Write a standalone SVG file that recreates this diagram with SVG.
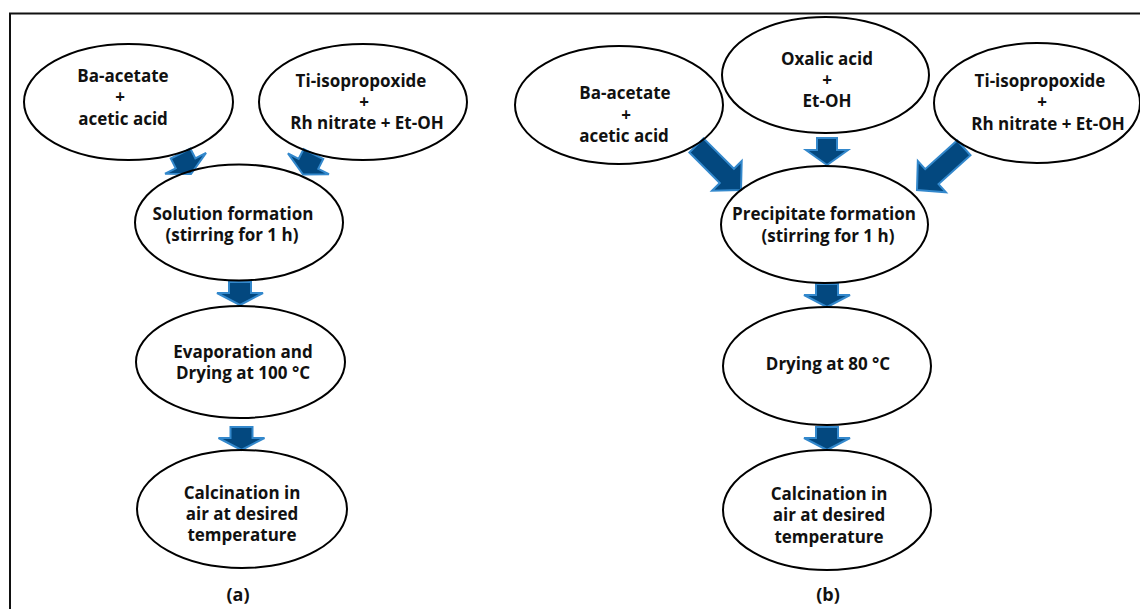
<svg xmlns="http://www.w3.org/2000/svg" xmlns:xlink="http://www.w3.org/1999/xlink" width="1140" height="609" viewBox="0 0 1140 609">
<style>
.node{fill:none;stroke:#000;stroke-width:2}
.t{font-family:"Open Sans","Noto Sans","Liberation Sans",sans-serif;font-weight:700;font-size:17px;fill:#111;text-anchor:middle}
.lbl{font-family:"Open Sans","Noto Sans","Liberation Sans",sans-serif;font-weight:700;font-size:18px;fill:#111;text-anchor:middle}
.arr{fill:#03487f;stroke:#3388cc;stroke-width:2;stroke-linejoin:miter}
</style>
<defs>
<path id="aS" d="M0,0 L-23,-12 L-11,-12 L-11,-23 L11,-23 L11,-12 L23,-12 Z"/>
<path id="aO" d="M0,0 L-21,-15 L-10,-15 L-10,-27 L10,-27 L10,-15 L21,-15 Z"/>
<path id="aB" d="M0,0 L-21,-20 L-10,-20 L-10,-63 L10,-63 L10,-20 L21,-20 Z"/>
</defs>
<rect x="10" y="13.5" width="1140" height="610" fill="#fff" stroke="#111" stroke-width="2"/>
<g id="connectors">
<use href="#aS" class="arr" transform="translate(191,174) rotate(-27)"/>
<use href="#aS" class="arr" transform="translate(303,174.5) rotate(27)"/>
<use href="#aS" class="arr" transform="translate(240,305)"/>
<use href="#aS" class="arr" transform="translate(241.5,450)"/>
<use href="#aB" class="arr" transform="translate(741,190) rotate(-45)"/>
<use href="#aO" class="arr" transform="translate(827,165)"/>
<use href="#aB" class="arr" transform="translate(917,190) rotate(48)"/>
<use href="#aS" class="arr" transform="translate(827,307)"/>
<use href="#aS" class="arr" transform="translate(827,450)"/>
</g>
<g id="a-ba">
<ellipse class="node" cx="128.5" cy="102" rx="104.5" ry="58"/>
<text class="t" x="123" y="82">Ba-acetate</text>
<text class="t" x="120" y="103">+</text>
<text class="t" x="123" y="125">acetic acid</text>
</g>
<g id="a-ti">
<ellipse class="node" cx="363" cy="102" rx="104" ry="58"/>
<text class="t" x="361" y="87">Ti-isopropoxide</text>
<text class="t" x="364" y="108">+</text>
<text class="t" x="367" y="129">Rh nitrate + Et-OH</text>
</g>
<g id="a-solution">
<ellipse class="node" cx="239" cy="222.5" rx="104" ry="58"/>
<text class="t" x="233" y="220">Solution formation</text>
<text class="t" x="232" y="241">(stirring for 1 h)</text>
</g>
<g id="a-evap">
<ellipse class="node" cx="240.5" cy="362" rx="104.5" ry="56"/>
<text class="t" x="243" y="358">Evaporation and</text>
<text class="t" x="243" y="379">Drying at 100 °C</text>
</g>
<g id="a-calc">
<ellipse class="node" cx="242" cy="509" rx="105" ry="59"/>
<text class="t" x="242" y="499">Calcination in</text>
<text class="t" x="242" y="520">air at desired</text>
<text class="t" x="242" y="541">temperature</text>
</g>
<text class="lbl" x="238" y="601">(a)</text>
<g id="b-ba">
<ellipse class="node" cx="619" cy="105" rx="104" ry="59"/>
<text class="t" x="625" y="99">Ba-acetate</text>
<text class="t" x="626" y="121">+</text>
<text class="t" x="624" y="142">acetic acid</text>
</g>
<g id="b-oxalic">
<ellipse class="node" cx="825.5" cy="75" rx="103.5" ry="58"/>
<text class="t" x="827" y="65">Oxalic acid</text>
<text class="t" x="827" y="86">+</text>
<text class="t" x="827" y="107">Et-OH</text>
</g>
<g id="b-ti">
<ellipse class="node" cx="1037" cy="103" rx="103" ry="60"/>
<text class="t" x="1040" y="87">Ti-isopropoxide</text>
<text class="t" x="1042" y="108">+</text>
<text class="t" x="1048" y="130">Rh nitrate + Et-OH</text>
</g>
<g id="b-precip">
<ellipse class="node" cx="824.5" cy="224.5" rx="103.5" ry="58.5"/>
<text class="t" x="824" y="220">Precipitate formation</text>
<text class="t" x="828" y="242">(stirring for 1 h)</text>
</g>
<g id="b-dry">
<ellipse class="node" cx="827" cy="366" rx="104" ry="59"/>
<text class="t" x="828" y="370">Drying at 80 °C</text>
</g>
<g id="b-calc">
<ellipse class="node" cx="827" cy="510" rx="104" ry="60"/>
<text class="t" x="829" y="500">Calcination in</text>
<text class="t" x="829" y="521">air at desired</text>
<text class="t" x="829" y="543">temperature</text>
</g>
<text class="lbl" x="828" y="601">(b)</text>
</svg>
